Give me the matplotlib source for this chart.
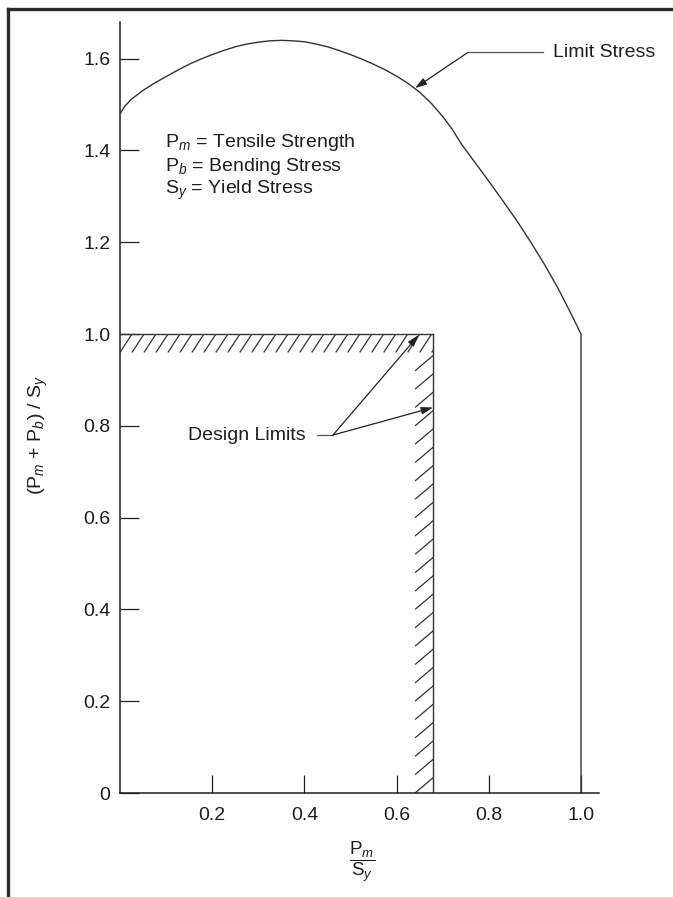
import matplotlib
matplotlib.use("Agg")
import matplotlib.pyplot as plt
import numpy as np
from matplotlib.collections import LineCollection
from matplotlib.lines import Line2D

plt.rcParams['font.family'] = ['Liberation Sans', 'DejaVu Sans']
plt.rcParams['mathtext.fontset'] = 'custom'
plt.rcParams['mathtext.rm'] = 'Liberation Sans'
plt.rcParams['mathtext.it'] = 'Liberation Sans:italic'
plt.rcParams['mathtext.bf'] = 'Liberation Sans:bold'

# Limit stress curve: Pm/Sy vs (Pm+Pb)/Sy
limit_x = [0.0, 0.01, 0.025, 0.05, 0.075, 0.10, 0.125, 0.15, 0.175, 0.20,
           0.225, 0.25, 0.275, 0.30, 0.325, 0.35, 0.375, 0.40, 0.425, 0.45,
           0.475, 0.50, 0.525, 0.55, 0.575, 0.60, 0.625, 0.65, 0.675, 0.70,
           0.72, 0.742, 0.77, 0.80, 0.83, 0.86, 0.89, 0.92, 0.95, 0.975,
           1.0, 1.0]
limit_y = [1.480, 1.496, 1.512, 1.531, 1.547, 1.561, 1.575, 1.588, 1.599, 1.609,
           1.618, 1.626, 1.632, 1.636, 1.639, 1.640, 1.639, 1.637, 1.632, 1.626,
           1.618, 1.609, 1.599, 1.588, 1.576, 1.562, 1.546, 1.527, 1.503, 1.474,
           1.447, 1.412, 1.374, 1.333, 1.291, 1.248, 1.202, 1.153, 1.100, 1.051,
           1.0, 0.0]

# Design limits
design_pm = 0.68      # Pm / Sy
design_total = 1.0    # (Pm + Pb) / Sy

x_ticks = [0.2, 0.4, 0.6, 0.8, 1.0]
x_tick_labels = ['0.2', '0.4', '0.6', '0.8', '1.0']
y_ticks = [0.0, 0.2, 0.4, 0.6, 0.8, 1.0, 1.2, 1.4, 1.6]
y_tick_labels = ['0', '0.2', '0.4', '0.6', '0.8', '1.0', '1.2', '1.4', '1.6']

legend_lines = ['P$_{m}$ = Tensile Strength',
                'P$_{b}$ = Bending Stress',
                'S$_{y}$ = Yield Stress']

INK = '#1e1e1e'
LINE = '#333333'
FS = 14

W, H = 673, 897
fig = plt.figure(figsize=(W / 100, H / 100), dpi=100)
ax = fig.add_axes([120 / W, 1 - 793 / H, 479 / W, 771 / H])
ax.set_xlim(0, 1.039)
ax.set_ylim(0, 1.68)

for side in ('top', 'right'):
    ax.spines[side].set_visible(False)
for side in ('left', 'bottom'):
    ax.spines[side].set_color(INK)
    ax.spines[side].set_linewidth(1.1)

ax.set_xticks(x_ticks)
ax.set_xticklabels(x_tick_labels)
ax.set_yticks(y_ticks)
ax.set_yticklabels(y_tick_labels)
ax.tick_params(axis='x', direction='in', length=13, width=0.9, color=INK,
               pad=10, labelsize=FS, labelcolor=INK)
ax.tick_params(axis='y', direction='in', length=14, width=0.9, color=INK,
               pad=7, labelsize=FS, labelcolor=INK)

# Limit stress curve
ax.plot(limit_x, limit_y, color=LINE, lw=1.0, solid_joinstyle='round')

# Design limit boundaries
band = 0.04
ax.plot([0, design_pm], [design_total, design_total], color=LINE, lw=1.0)
ax.plot([design_pm, design_pm], [0, design_total], color=LINE, lw=1.0)


def clip_segment(p0, p1, xmin, xmax, ymin, ymax):
    """Clip a straight segment to an axis-aligned box (parametric)."""
    (x0, y0), (x1, y1) = p0, p1
    dx, dy = x1 - x0, y1 - y0
    t0, t1 = 0.0, 1.0
    for p, q in ((-dx, x0 - xmin), (dx, xmax - x0),
                 (-dy, y0 - ymin), (dy, ymax - y0)):
        if p == 0:
            if q < 0:
                return None
            continue
        r = q / p
        if p < 0:
            t0 = max(t0, r)
        else:
            t1 = min(t1, r)
    if t0 >= t1:
        return None
    return [(x0 + t0 * dx, y0 + t0 * dy), (x0 + t1 * dx, y0 + t1 * dy)]


# Hatching under the (Pm+Pb)/Sy limit
step = 0.026
segs = []
for x0 in np.arange(-step, design_pm + step, step):
    s = clip_segment((x0, design_total - band), (x0 + step, design_total),
                     0, design_pm, design_total - band, design_total)
    if s:
        segs.append(s)
ax.add_collection(LineCollection(segs, colors=LINE, linewidths=0.9))

# Hatching left of the Pm/Sy limit
vstep = 0.04
segs = []
for y0 in np.arange(-vstep, design_total, vstep):
    s = clip_segment((design_pm - band, y0), (design_pm, y0 + 0.034),
                     design_pm - band, design_pm, 0, design_total - band)
    if s:
        segs.append(s)
ax.add_collection(LineCollection(segs, colors=LINE, linewidths=0.9))

# Legend text
for i, txt in enumerate(legend_lines):
    ax.text(0.0976, 1.418 - i * 0.0525, txt, fontsize=FS, color=INK,
            ha='left', va='center')

arrow_style = dict(arrowstyle='-|>,head_length=0.7,head_width=0.22',
                   color='#222222', lw=0.9, shrinkA=0, shrinkB=0)

# Limit stress label
ax.text(0.939, 1.614, 'Limit Stress', fontsize=FS, color=INK,
        ha='left', va='center')
ax.plot([0.755, 0.918], [1.614, 1.614], color='#555555', lw=0.9)
ax.annotate('', xy=(0.64, 1.536), xytext=(0.755, 1.614), arrowprops=arrow_style)

# Design limits label
ax.text(0.1475, 0.78, 'Design Limits', fontsize=FS, color=INK,
        ha='left', va='center')
ax.plot([0.427, 0.462], [0.78, 0.78], color='#555555', lw=0.9)
for tip in [(0.648, 0.998), (0.679, 0.84)]:
    ax.annotate('', xy=tip, xytext=(0.462, 0.78), arrowprops=arrow_style)

# Axis titles
ax.text((38 - 120) / 479, (793 - 435) / 771,
        '(P$_{m}$ + P$_{b}$) / S$_{y}$', rotation=90, fontsize=FS,
        color=INK, ha='center', va='center', transform=ax.transAxes)
ax.text((362 - 120) / 479, (793 - 862) / 771,
        r'$\dfrac{\mathrm{P}_{m}}{\mathrm{S}_{y}}$', fontsize=FS - 0.5,
        color=INK, ha='center', va='center', transform=ax.transAxes)

# Page border (top and left)
fig.add_artist(Line2D([8 / W, 1.0], [1 - 9 / H, 1 - 9 / H],
                      transform=fig.transFigure, color='#2a2a2a', lw=2.4))
fig.add_artist(Line2D([8 / W, 8 / W], [0.0, 1 - 9 / H],
                      transform=fig.transFigure, color='#2a2a2a', lw=2.4))

fig.savefig('out.png', dpi=100, facecolor='white')
